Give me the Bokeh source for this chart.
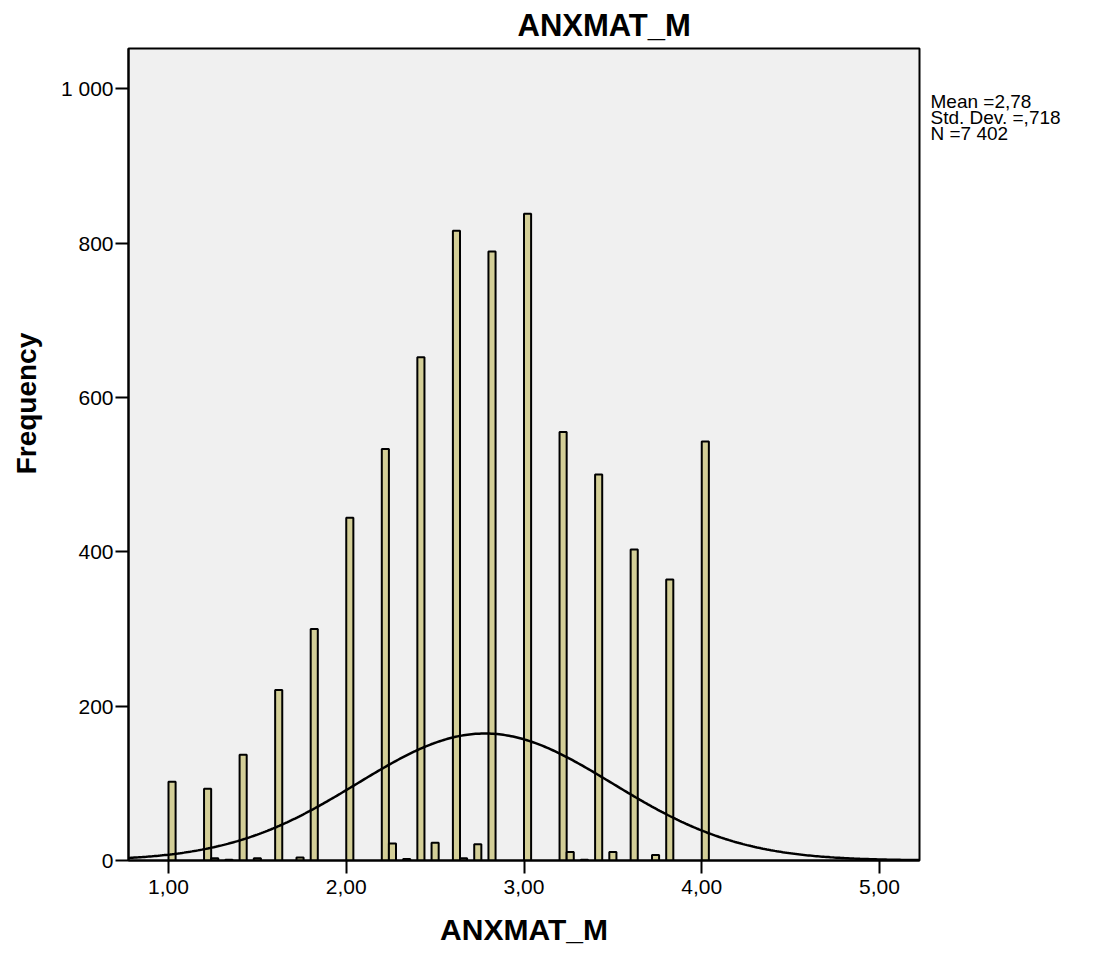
import numpy as np
from bokeh.plotting import figure
from bokeh.models import Range1d, FixedTicker, ColumnDataSource, LinearAxis
from bokeh.embed import file_html
from bokeh.resources import INLINE

# ---- data ----
bin_start = [1.00, 1.20, 1.24, 1.32, 1.40, 1.48, 1.60, 1.72, 1.80, 2.00,
             2.20, 2.24, 2.32, 2.40, 2.48, 2.60, 2.64, 2.72, 2.80, 3.00,
             3.20, 3.24, 3.32, 3.40, 3.48, 3.60, 3.72, 3.80, 4.00]
frequency = [102, 93, 3, 1, 137, 3, 221, 4, 300, 444,
             533, 22, 2, 652, 23, 816, 3, 21, 789, 838,
             555, 11, 1, 500, 11, 403, 7, 364, 543]
bin_width = 0.04

x_ticks = [1, 2, 3, 4, 5]
x_tick_labels = ["1,00", "2,00", "3,00", "4,00", "5,00"]
y_ticks = [0, 200, 400, 600, 800, 1000]
y_tick_labels = ["0", "200", "400", "600", "800", "1 000"]

mean_val = 2.78
sd_val = 0.718
n_val = 7402
stats_lines = ["Mean =2,78", "Std. Dev. =,718", "N =7 402"]

title_text = "ANXMAT_M"
x_label = "ANXMAT_M"
y_label = "Frequency"

FONT = "Liberation Sans"

# ---- figure ----
p = figure(width=1093, height=953,
           x_range=Range1d(0.775, 5.225), y_range=Range1d(0, 1052),
           min_border_left=128, min_border_right=174,
           min_border_top=48, min_border_bottom=93,
           background_fill_color="#f0f0f0", border_fill_color="white",
           outline_line_color="black", outline_line_width=2,
           output_backend="svg", toolbar_location=None)

p.xgrid.visible = False
p.ygrid.visible = False

# title
p.title.text = title_text
p.title.align = "left"
p.title.offset = 389
p.title.standoff = 11
p.title.text_font = FONT
p.title.text_font_size = "31px"
p.title.text_font_style = "bold"
p.title.text_color = "black"

src = ColumnDataSource(dict(
    left=bin_start,
    right=[b + bin_width for b in bin_start],
    top=frequency,
    bottom=[0] * len(frequency),
))
p.quad(left="left", right="right", top="top", bottom="bottom", source=src,
       fill_color="#d3ce97", line_color="black", line_width=2)

# fitted normal curve from the reported statistics
xs = np.linspace(0.775, 5.225, 400)
ys = n_val * bin_width / (sd_val * np.sqrt(2 * np.pi)) * np.exp(-0.5 * ((xs - mean_val) / sd_val) ** 2)
p.line(xs, ys, line_color="black", line_width=2.5)

# axes
for ax in (p.xaxis[0], p.yaxis[0]):
    ax.axis_line_color = "black"
    ax.axis_line_width = 2
    ax.major_tick_line_color = "black"
    ax.major_tick_line_width = 2
    ax.major_tick_out = 13
    ax.major_tick_in = 0
    ax.minor_tick_line_color = None
    ax.major_label_text_font = FONT
    ax.major_label_text_font_size = "21px"
    ax.major_label_text_color = "black"

p.xaxis[0].ticker = FixedTicker(ticks=x_ticks)
p.xaxis[0].major_label_overrides = {t: l for t, l in zip(x_ticks, x_tick_labels)}
p.xaxis[0].major_label_standoff = 6
p.xaxis[0].axis_label = x_label
p.xaxis[0].axis_label_text_font = FONT
p.xaxis[0].axis_label_text_font_size = "30px"
p.xaxis[0].axis_label_text_font_style = "bold"
p.xaxis[0].axis_label_text_color = "black"
p.xaxis[0].axis_label_standoff = 16

p.yaxis[0].ticker = FixedTicker(ticks=y_ticks)
p.yaxis[0].major_label_overrides = {t: l for t, l in zip(y_ticks, y_tick_labels)}
p.yaxis[0].major_label_standoff = 2

# y-axis title, placed where the reference has it (above the axis centre)
ylab_pos = 592
ylab_axis = LinearAxis(ticker=FixedTicker(ticks=[ylab_pos]),
                       major_label_overrides={ylab_pos: y_label},
                       major_label_orientation="vertical",
                       axis_line_color=None, major_tick_line_color=None,
                       minor_tick_line_color=None,
                       major_tick_out=0, major_tick_in=0,
                       major_label_standoff=15,
                       major_label_text_font=FONT,
                       major_label_text_font_size="28px",
                       major_label_text_font_style="bold",
                       major_label_text_color="black")
p.add_layout(ylab_axis, "left")

# statistics box text on the right
stat_pos = [983, 963, 942]
stats_axis = LinearAxis(ticker=FixedTicker(ticks=stat_pos),
                        major_label_overrides={t: s for t, s in zip(stat_pos, stats_lines)},
                        axis_line_color=None, major_tick_line_color=None,
                        minor_tick_line_color=None,
                        major_tick_out=0, major_tick_in=0,
                        major_label_standoff=11,
                        major_label_text_font=FONT,
                        major_label_text_font_size="19px",
                        major_label_text_color="black")
p.add_layout(stats_axis, "right")

open("out.html", "w").write(file_html(p, INLINE))
